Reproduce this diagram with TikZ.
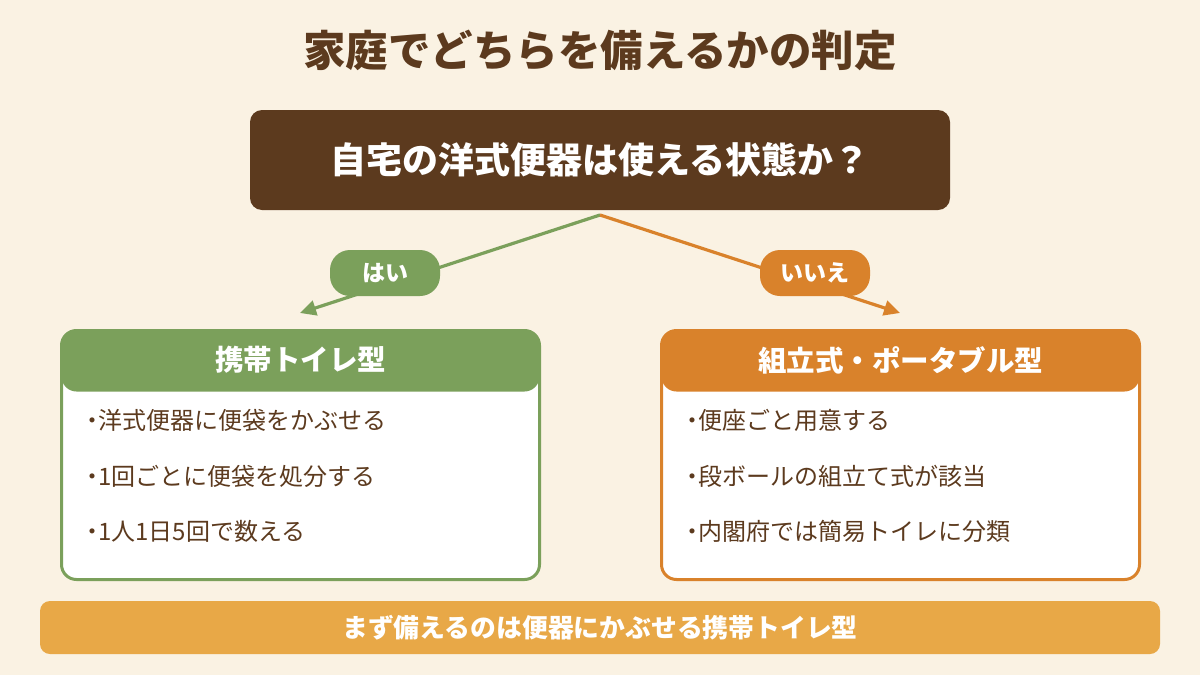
\documentclass[tikz,border=0pt]{standalone}
\usepackage{fontspec}
\setmainfont{Noto Sans CJK JP}
\usetikzlibrary{arrows.meta}
\definecolor{bg}{HTML}{FAF2E3}
\definecolor{brn}{HTML}{5C3A1E}
\definecolor{grn}{HTML}{7BA05B}
\definecolor{org}{HTML}{D9822B}
\definecolor{ban}{HTML}{E8A847}
\newcommand{\bul}{・\kern-6pt}
\begin{document}
\begin{tikzpicture}[x=1pt,y=-1pt,
  titletext/.style={font=\fontsize{42.5}{48}\selectfont\bfseries, text=brn, inner sep=0},
  qbox/.style={fill=brn, rounded corners=12pt, minimum width=700pt, minimum height=100pt, text=white, font=\fontsize{36}{42}\selectfont\bfseries},
  pill/.style={fill=#1, rounded corners=20pt, minimum width=110pt, minimum height=46pt, text=white, font=\fontsize{23}{28}\selectfont\bfseries, inner sep=0},
  conn/.style={draw=#1, line width=3.2pt, -{Triangle[length=16pt,width=15pt]}},
  card/.style={draw=#1, fill=white, line width=3pt, rounded corners=15pt, minimum width=478pt, minimum height=249pt, inner sep=0,
    path picture={\fill[#1] (path picture bounding box.north west) rectangle ([yshift=-61pt]path picture bounding box.north east);}},
  headtext/.style={text=white, font=\fontsize{28.5}{34}\selectfont\bfseries, inner sep=0},
  item/.style={anchor=west, text=brn, font=\fontsize{24}{28}\selectfont, inner sep=0},
  banner/.style={fill=ban, rounded corners=10pt, minimum width=1120pt, minimum height=53pt, text=white, font=\fontsize{25.8}{30}\selectfont\bfseries}
]
\useasboundingbox (0,0) rectangle (1200,675);
\fill[bg] (0,0) rectangle (1200,675);

\node[titletext] (title) at (600,50) {家庭でどちらを備えるかの判定};

\node[qbox] (q) at (600,160) {自宅の洋式便器は使える状態か？};

\coordinate (apex) at (600,215);
\coordinate (ltip) at (300,313);
\coordinate (rtip) at (900,313);
\draw[conn=grn] (apex) -- (ltip);
\draw[conn=org] (apex) -- (rtip);
\node[pill=grn] (yes) at (385,273) {はい};
\node[pill=org] (no) at (815,273) {いいえ};

\node[card=grn] (lcard) at (300.5,455) {};
\node[headtext] (lhead) at (300.5,360) {携帯トイレ型};
\node[item] (l1) at (80,420) {\bul 洋式便器に便袋をかぶせる};
\node[item] (l2) at (80,476) {\bul 1回ごとに便袋を処分する};
\node[item] (l3) at (80,531) {\bul 1人1日5回で数える};

\node[card=org] (rcard) at (900.5,455) {};
\node[headtext] (rhead) at (900.5,360) {組立式・ポータブル型};
\node[item] (r1) at (680,420) {\bul 便座ごと用意する};
\node[item] (r2) at (680,476) {\bul 段ボールの組立て式が該当};
\node[item] (r3) at (680,531) {\bul 内閣府では簡易トイレに分類};

\node[banner] (sum) at (600,627.5) {まず備えるのは便器にかぶせる携帯トイレ型};
\end{tikzpicture}
\end{document}
